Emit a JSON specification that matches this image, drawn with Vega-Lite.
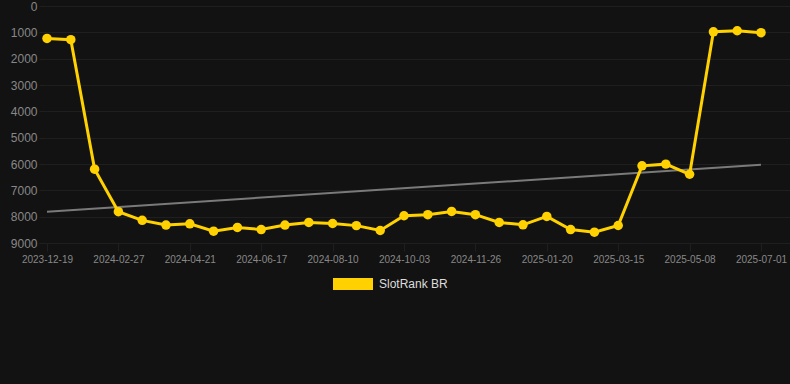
{
  "$schema": "https://vega.github.io/schema/vega-lite/v6.json",
  "width": 743,
  "height": 237,
  "autosize": {"type": "none"},
  "padding": {"left": 47, "top": 6, "right": 0, "bottom": 141},
  "background": "#121212",
  "config": {
    "view": {"stroke": null},
    "font": "Liberation Sans",
    "axis": {
      "gridColor": "#1f1f1f",
      "gridWidth": 1,
      "domain": false,
      "tickColor": "#1f1f1f",
      "tickSize": 8,
      "labelColor": "#888888",
      "labelFont": "Liberation Sans"
    }
  },
  "datasets": {
    "ranks": [
      {"date": "2023-12-19", "rank": 1230},
      {"date": "2024-01-12", "rank": 1280},
      {"date": "2024-02-04", "rank": 6195},
      {"date": "2024-02-27", "rank": 7810},
      {"date": "2024-03-16", "rank": 8140},
      {"date": "2024-04-03", "rank": 8320},
      {"date": "2024-04-21", "rank": 8270},
      {"date": "2024-05-10", "rank": 8550},
      {"date": "2024-05-29", "rank": 8410},
      {"date": "2024-06-17", "rank": 8490},
      {"date": "2024-07-05", "rank": 8320},
      {"date": "2024-07-23", "rank": 8220},
      {"date": "2024-08-10", "rank": 8260},
      {"date": "2024-08-28", "rank": 8340},
      {"date": "2024-09-15", "rank": 8525},
      {"date": "2024-10-03", "rank": 7965},
      {"date": "2024-10-21", "rank": 7925},
      {"date": "2024-11-08", "rank": 7800},
      {"date": "2024-11-26", "rank": 7925},
      {"date": "2024-12-14", "rank": 8220},
      {"date": "2025-01-01", "rank": 8310},
      {"date": "2025-01-20", "rank": 7990},
      {"date": "2025-02-07", "rank": 8490},
      {"date": "2025-02-25", "rank": 8590},
      {"date": "2025-03-15", "rank": 8335},
      {"date": "2025-04-02", "rank": 6070},
      {"date": "2025-04-20", "rank": 6005},
      {"date": "2025-05-08", "rank": 6390},
      {"date": "2025-05-26", "rank": 980},
      {"date": "2025-06-13", "rank": 940},
      {"date": "2025-07-01", "rank": 1015}
    ],
    "trend": [
      {"date": "2023-12-19", "trend": 7810},
      {"date": "2025-07-01", "trend": 6030}
    ]
  },
  "encoding": {
    "x": {
      "field": "date",
      "type": "ordinal",
      "scale": {"type": "point", "padding": 0.609, "align": 0, "round": false},
      "axis": {
        "title": null,
        "labelAngle": 0,
        "labelFontSize": 10,
        "labelPadding": 3,
        "values": ["2023-12-19", "2024-02-27", "2024-04-21", "2024-06-17", "2024-08-10", "2024-10-03", "2024-11-26", "2025-01-20", "2025-03-15", "2025-05-08", "2025-07-01"]
      }
    }
  },
  "layer": [
    {
      "data": {"name": "trend"},
      "mark": {"type": "line", "color": "#7a7a7a", "strokeWidth": 2},
      "encoding": {
        "y": {
          "field": "trend",
          "type": "quantitative",
          "scale": {"domain": [0, 9000], "reverse": true, "nice": false}
        }
      }
    },
    {
      "data": {"name": "ranks"},
      "mark": {"type": "line", "strokeWidth": 3, "point": {"filled": true, "size": 90, "opacity": 1}},
      "encoding": {
        "y": {
          "field": "rank",
          "type": "quantitative",
          "scale": {"domain": [0, 9000], "reverse": true, "nice": false},
          "axis": {
            "title": null,
            "tickCount": 10,
            "labelFontSize": 12,
            "labelPadding": 2,
            "format": "d"
          }
        },
        "color": {
          "datum": "SlotRank BR",
          "type": "nominal",
          "scale": {"range": ["#FFD100"]},
          "legend": {
            "title": null,
            "orient": "none",
            "legendX": 286,
            "legendY": 258,
            "symbolType": "M-1,-0.3H1V0.3H-1Z",
            "symbolSize": 1600,
            "symbolStrokeWidth": 0,
            "labelColor": "#dddddd",
            "labelFontSize": 12,
            "labelFont": "Liberation Sans",
            "labelOffset": 6
          }
        }
      }
    }
  ]
}
